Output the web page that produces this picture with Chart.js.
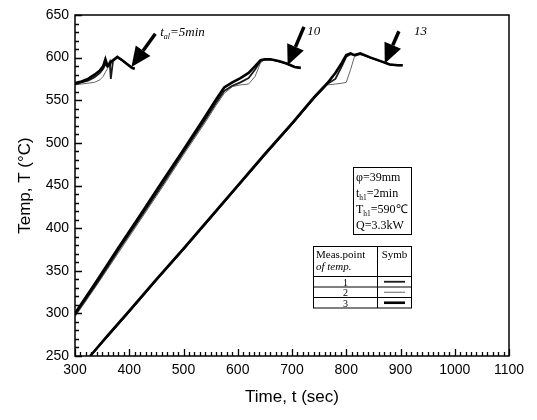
<!DOCTYPE html>
<html>
<head>
<meta charset="utf-8">
<script src="https://cdn.jsdelivr.net/npm/chart.js@4/dist/chart.umd.min.js"></script>
<style>
  html, body { margin: 0; padding: 0; background: #fff; }
  #wrap { width: 537px; height: 420px; }
</style>
</head>
<body>
<div id="wrap"><canvas id="c" width="537" height="420"></canvas></div>
<script>
// ---- data (time in sec, temperature in °C) ----
// run with t_al = 5 min
const t5      = [300, 312, 324, 336, 346, 352, 356, 360, 364, 366, 370, 378, 387, 397, 405, 410];
const run5_p1 = [569, 571, 573, 577, 582, 587, 592, 590, 595, 575, 596, 600, 597, 592, 588, 587];
const run5_p2 = [568, 569, 570, 571, 574, 578, 583, 587, 592, 594, 596, 600, 597, 592, 588, 587];
const run5_p3 = [570, 572, 575, 580, 585, 590, 598, 590, 592, 595, 597, 601, 597, 592, 588, 587];
// run with t_al = 10 min
const t10      = [300, 340, 380, 420, 460, 500, 540, 560, 575, 590, 605, 620, 632, 642, 650, 660, 675, 690, 705, 716];
const run10_p1 = [298, 335, 374, 412, 450, 489, 527, 547, 561, 567, 571, 576, 586, 596, 598, 598, 596, 593, 589, 588];
const run10_p2 = [296, 333, 371, 409, 447, 486, 524, 544, 558, 566, 568, 569, 578, 594, 598, 598, 596, 593, 589, 588];
const run10_p3 = [300, 338, 377, 415, 454, 492, 531, 551, 565, 571, 576, 582, 590, 597, 598, 598, 596, 593, 589, 588];
// run with t_al = 13 min
const t13      = [328, 360, 400, 450, 500, 550, 600, 650, 700, 740, 765, 780, 792, 800, 808, 815, 826, 845, 867, 880, 895, 904];
const run13_p1 = [250, 273, 302, 339, 375, 412, 449, 486, 522, 552, 569, 575, 590, 601, 604, 603, 604, 600, 595, 592, 591, 591];
const run13_p2 = [250, 272, 301, 338, 374, 411, 448, 485, 521, 551, 568, 569, 570, 571, 586, 601, 604, 600, 595, 592, 591, 591];
const run13_p3 = [250, 274, 303, 340, 376, 413, 450, 487, 523, 553, 570, 582, 594, 603, 605, 603, 605, 600, 595, 592, 591, 591];

const xTicks = [300, 400, 500, 600, 700, 800, 900, 1000, 1100];
const yTicks = [250, 300, 350, 400, 450, 500, 550, 600, 650];

// ---- styles per measuring point ----
const pointStyle = {
  p1: { color: '#1a1a1a', width: 1.8 },
  p2: { color: '#666666', width: 1.0 },
  p3: { color: '#000000', width: 2.6 }
};

function series(times, temps, st, order) {
  return {
    data: times.map((t, i) => ({ x: t, y: temps[i] })),
    showLine: true,
    borderColor: st.color,
    borderWidth: st.width,
    pointRadius: 0,
    tension: 0,
    fill: false,
    order: order
  };
}

const datasets = [
  series(t5, run5_p2, pointStyle.p2, 3),
  series(t10, run10_p2, pointStyle.p2, 3),
  series(t13, run13_p2, pointStyle.p2, 3),
  series(t5, run5_p1, pointStyle.p1, 2),
  series(t10, run10_p1, pointStyle.p1, 2),
  series(t13, run13_p1, pointStyle.p1, 2),
  series(t5, run5_p3, pointStyle.p3, 1),
  series(t10, run10_p3, pointStyle.p3, 1),
  series(t13, run13_p3, pointStyle.p3, 1)
];

const SERIF = '"Liberation Serif", "Times New Roman", serif';
const SANS = '"Liberation Sans", Arial, sans-serif';

function arrow(ctx, x0, y0, x1, y1) {
  const ang = Math.atan2(y1 - y0, x1 - x0);
  const headL = 20, headW = 9;
  const bx = x1 - headL * Math.cos(ang), by = y1 - headL * Math.sin(ang);
  ctx.save();
  ctx.strokeStyle = '#000'; ctx.fillStyle = '#000';
  ctx.lineWidth = 3.5;
  ctx.beginPath(); ctx.moveTo(x0, y0); ctx.lineTo(bx, by); ctx.stroke();
  ctx.beginPath();
  ctx.moveTo(x1, y1);
  ctx.lineTo(bx + headW * Math.sin(ang), by - headW * Math.cos(ang));
  ctx.lineTo(bx - headW * Math.sin(ang), by + headW * Math.cos(ang));
  ctx.closePath(); ctx.fill();
  ctx.restore();
}

function subText(ctx, x, y, parts, size, italic) {
  let cx = x;
  parts.forEach(([txt, sub]) => {
    const fs = sub ? size * 0.62 : size;
    ctx.font = (italic ? 'italic ' : '') + fs + 'px ' + SERIF;
    ctx.fillText(txt, cx, sub ? y + size * 0.22 : y);
    cx += ctx.measureText(txt).width;
  });
}

const decor = {
  id: 'decor',
  afterDraw(chart) {
    const ctx = chart.ctx;
    const xs = chart.scales.x, ys = chart.scales.y;
    const a = chart.chartArea;
    ctx.save();
    // frame
    ctx.strokeStyle = '#000'; ctx.lineWidth = 1.5;
    ctx.strokeRect(a.left, a.top, a.right - a.left, a.bottom - a.top);
    // inward ticks
    ctx.lineWidth = 1.3;
    ctx.beginPath();
    for (let v = 300; v <= 1100; v += 10) {
      const px = Math.round(xs.getPixelForValue(v)) + 0.5;
      const len = (v % 100 === 0) ? 7 : 4;
      ctx.moveTo(px, a.bottom); ctx.lineTo(px, a.bottom - len);
    }
    for (let v = 250; v <= 650; v += 10) {
      const py = Math.round(ys.getPixelForValue(v)) + 0.5;
      const len = (v % 50 === 0) ? 7 : 4;
      ctx.moveTo(a.left, py); ctx.lineTo(a.left + len, py);
    }
    ctx.stroke();

    // arrows
    const P = (x, y) => [xs.getPixelForValue(x), ys.getPixelForValue(y)];
    let s, e;
    s = P(448, 628); e = P(404, 589); arrow(ctx, s[0], s[1], e[0], e[1]);
    s = P(722, 636); e = P(692, 591); arrow(ctx, s[0], s[1], e[0], e[1]);
    s = P(897, 631); e = P(871, 593); arrow(ctx, s[0], s[1], e[0], e[1]);

    // labels
    ctx.fillStyle = '#000';
    ctx.textBaseline = 'alphabetic';
    ctx.textAlign = 'left';
    let q = P(457, 630);
    subText(ctx, q[0], q[1] + 4, [['t', false], ['al', true], ['=5min', false]], 13, true);
    q = P(728, 631);
    subText(ctx, q[0], q[1] + 4, [['10', false]], 13, true);
    q = P(925, 631);
    subText(ctx, q[0], q[1] + 4, [['13', false]], 13, true);

    // parameter box
    ctx.lineWidth = 1;
    ctx.strokeStyle = '#000';
    ctx.strokeRect(353.5, 167.5, 58, 67);
    subText(ctx, 356, 181, [['φ=39mm', false]], 12, false);
    subText(ctx, 356, 197, [['t', false], ['h1', true], ['=2min', false]], 12, false);
    subText(ctx, 356, 213, [['T', false], ['h1', true], ['=590℃', false]], 12, false);
    subText(ctx, 356, 229, [['Q=3.3kW', false]], 12, false);

    // symbol table
    const L = 313.5, R = 411.5, D = 377.5, T0 = 246.5, H = 276.5, rowH = 10.5;
    ctx.strokeRect(L, T0, R - L, H + 3 * rowH - T0);
    ctx.beginPath();
    ctx.moveTo(D, T0); ctx.lineTo(D, H + 3 * rowH);
    for (let i = 0; i < 3; i++) { ctx.moveTo(L, H + i * rowH); ctx.lineTo(R, H + i * rowH); }
    ctx.stroke();
    ctx.font = '11px ' + SERIF;
    ctx.fillText('Meas.point', 316, 258);
    ctx.font = 'italic 11px ' + SERIF;
    ctx.fillText('of temp.', 316, 270);
    ctx.font = '11px ' + SERIF;
    ctx.textAlign = 'center';
    ctx.fillText('Symb', (D + R) / 2, 258);
    ['1', '2', '3'].forEach((lab, i) => {
      ctx.font = '10px ' + SERIF;
      ctx.fillText(lab, (L + D) / 2, H + i * rowH + 9);
    });
    const styles = [pointStyle.p1, pointStyle.p2, pointStyle.p3];
    styles.forEach((st, i) => {
      const yy = H + i * rowH + rowH / 2;
      ctx.strokeStyle = st.color; ctx.lineWidth = st.width;
      ctx.beginPath(); ctx.moveTo(384, yy); ctx.lineTo(405, yy); ctx.stroke();
    });
    ctx.restore();
  }
};

new Chart(document.getElementById('c'), {
  type: 'scatter',
  data: { datasets },
  plugins: [decor],
  options: {
    responsive: false,
    animation: false,
    events: [],
    layout: { padding: { top: 15, right: 28, left: 0, bottom: 0 } },
    plugins: { legend: { display: false }, tooltip: { enabled: false } },
    scales: {
      x: {
        type: 'linear', min: 300, max: 1100,
        afterBuildTicks: s => { s.ticks = xTicks.map(v => ({ value: v })); },
        afterFit: s => { s.height = 64; },
        grid: { display: false, drawTicks: false },
        border: { display: false },
        ticks: { color: '#000', font: { family: SANS, size: 14 }, padding: 6, maxRotation: 0, callback: v => String(v) },
        title: { display: true, text: 'Time, t (sec)', color: '#000', font: { family: SANS, size: 17 }, padding: { top: 0, bottom: 12 } }
      },
      y: {
        type: 'linear', min: 250, max: 650,
        afterBuildTicks: s => { s.ticks = yTicks.map(v => ({ value: v })); },
        afterFit: s => { s.width = 75; },
        grid: { display: false, drawTicks: false },
        border: { display: false },
        ticks: { color: '#000', font: { family: SANS, size: 14 }, padding: 6, callback: v => String(v) },
        title: { display: true, text: 'Temp, T (°C)', color: '#000', font: { family: SANS, size: 17 }, padding: { top: 15, bottom: 0 } }
      }
    }
  }
});
</script>
</body>
</html>
